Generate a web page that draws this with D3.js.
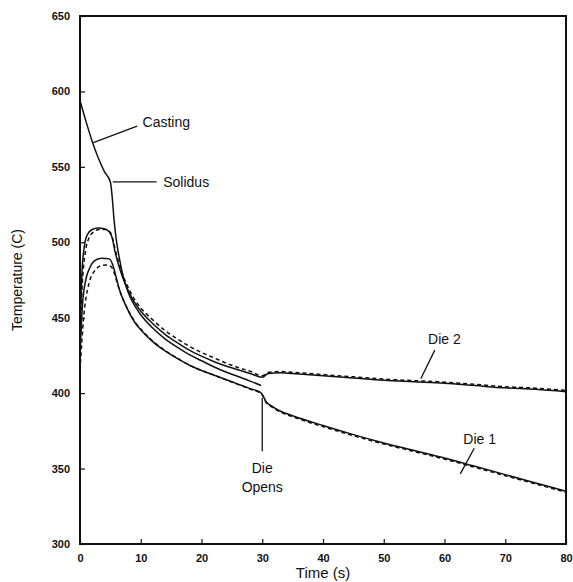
<!DOCTYPE html>
<html>
<head>
<meta charset="utf-8">
<script src="https://cdn.jsdelivr.net/npm/d3@7"></script>
<style>
  body { margin: 0; background: #fff; }
  svg { font-family: "Liberation Sans", Arial, sans-serif; }
  .tick-label { font-size: 11px; font-weight: bold; fill: #111; }
  .note { font-size: 14px; fill: #111; }
</style>
</head>
<body>
<div id="wrapper"></div>
<script>
// tick labels
const xTicks = [0, 10, 20, 30, 40, 50, 60, 70, 80]
const yTicks = [300, 350, 400, 450, 500, 550, 600, 650]

// series: [time (s), temperature (C)]
const casting = [
  [0, 594], [1, 580], [2, 567], [3, 556], [4, 547], [5, 540], [5.3, 530],
  [5.6, 515], [6, 501], [6.5, 489], [7, 479], [8, 466], [9, 458], [10, 452],
  [12, 443], [14, 436], [16, 430.5], [18, 425.5], [20, 421.5], [22, 417.5],
  [24, 414], [26, 411], [28, 408], [29.8, 405]
]
const die2Solid = [
  [0, 440], [0.3, 478], [0.7, 497], [1.2, 505], [2, 508.5], [3, 509.5],
  [4, 509], [4.8, 507], [5.3, 503], [5.7, 495], [6.2, 487], [7, 477],
  [8, 467.5], [9, 460], [10, 454.5], [12, 446], [14, 439], [16, 433.5],
  [18, 428.5], [20, 424.5], [22, 421], [24, 418], [26, 415.5], [28, 413],
  [30, 410.5], [31, 413], [33, 413.5], [35, 413], [40, 411.5], [45, 410],
  [50, 408.5], [55, 407.5], [60, 406.5], [65, 405], [70, 403.5], [75, 402.5],
  [80, 401]
]
const die2Dashed = [
  [0, 436], [0.4, 474], [0.9, 494], [1.5, 503], [2.3, 507], [3.2, 508.5],
  [4.2, 508.5], [5, 506.5], [5.4, 502], [5.8, 495], [6.3, 488], [7, 479],
  [8, 469.5], [9, 462], [10, 456.5], [12, 448.5], [14, 441.5], [16, 436],
  [18, 431], [20, 427], [22, 423.5], [24, 420], [26, 417], [28, 414.5],
  [30, 411.5], [31, 413.8], [33, 414.3], [35, 413.8], [40, 412.3], [45, 410.8],
  [50, 409.3], [55, 408.3], [60, 407.3], [65, 405.8], [70, 404.3], [75, 403.3],
  [80, 401.8]
]
const die1Solid = [
  [0, 425], [0.4, 458], [1, 476], [1.6, 483], [2.3, 487.5], [3.5, 489.5],
  [4.8, 489], [5.4, 485], [6, 476], [6.5, 468.5], [7.6, 457.5], [9, 447],
  [10, 442], [12, 434], [14, 428], [16, 423], [18, 418.5], [20, 415],
  [22, 412], [24, 409], [26, 406], [28, 403], [29.7, 400.5], [30.1, 398.5],
  [30.6, 394.5], [31.5, 391.5], [33, 388], [35, 385], [40, 378.5], [45, 372.5],
  [50, 367], [55, 362], [60, 357], [65, 351.5], [70, 346], [75, 340.5], [80, 335]
]
const die1Dashed = [
  [0, 415], [0.6, 450], [1.5, 473], [2.6, 482], [3.5, 484.5], [4.3, 485],
  [5.1, 484], [5.6, 480], [6.2, 472], [6.8, 465], [7.8, 456], [9, 447.5],
  [10, 442.5], [12, 434.5], [14, 428.3], [16, 423.2], [18, 418.6], [20, 415],
  [22, 412], [24, 408.8], [26, 405.8], [28, 402.7], [29.7, 400], [30.1, 398],
  [30.6, 394], [31.5, 391], [33, 387.4], [35, 384.3], [40, 377.8], [45, 371.8],
  [50, 366.3], [55, 361.3], [60, 356.3], [65, 350.8], [70, 345.3], [75, 339.8],
  [80, 334.3]
]

function drawChart() {
  const dimensions = {
    width: 573,
    height: 582,
    margin: { top: 16, right: 7, bottom: 38, left: 80 }
  }
  dimensions.boundedWidth = dimensions.width
    - dimensions.margin.left - dimensions.margin.right
  dimensions.boundedHeight = dimensions.height
    - dimensions.margin.top - dimensions.margin.bottom

  const wrapper = d3.select("#wrapper")
    .append("svg")
      .attr("width", dimensions.width)
      .attr("height", dimensions.height)

  const bounds = wrapper.append("g")
    .attr("transform", `translate(${dimensions.margin.left},${dimensions.margin.top})`)

  const xScale = d3.scaleLinear()
    .domain([0, 80])
    .range([0, dimensions.boundedWidth])
  const yScale = d3.scaleLinear()
    .domain([300, 650])
    .range([dimensions.boundedHeight, 0])

  // ticks (inward) and labels
  const xAxis = bounds.append("g")
    .attr("transform", `translate(0,${dimensions.boundedHeight})`)
    .call(d3.axisBottom(xScale).tickValues(xTicks).tickSize(-5).tickPadding(10))
  const yAxis = bounds.append("g")
    .call(d3.axisLeft(yScale).tickValues(yTicks).tickSize(-5).tickPadding(10))
  ;[xAxis, yAxis].forEach(ax => {
    ax.select(".domain").remove()
    ax.selectAll(".tick line").attr("stroke", "#111").attr("stroke-width", 1.2)
    ax.selectAll(".tick text").attr("class", "tick-label").attr("font-family", null).attr("font-size", null)
  })

  // frame
  bounds.append("rect")
    .attr("width", dimensions.boundedWidth)
    .attr("height", dimensions.boundedHeight)
    .attr("fill", "none")
    .attr("stroke", "#111")
    .attr("stroke-width", 2)

  const line = d3.line()
    .x(d => xScale(d[0]))
    .y(d => yScale(d[1]))
    .curve(d3.curveMonotoneX)

  const series = [
    { data: casting, dash: null },
    { data: die2Solid, dash: null },
    { data: die2Dashed, dash: "4,3" },
    { data: die1Solid, dash: null },
    { data: die1Dashed, dash: "4,3" }
  ]
  bounds.selectAll(".series")
    .data(series)
    .enter().append("path")
      .attr("class", "series")
      .attr("d", d => line(d.data))
      .attr("fill", "none")
      .attr("stroke", "#111")
      .attr("stroke-width", 1.5)
      .attr("stroke-dasharray", d => d.dash)

  // annotations
  const notes = bounds.append("g")
  const leader = (t1, v1, t2, v2) => notes.append("line")
    .attr("x1", xScale(t1)).attr("y1", yScale(v1))
    .attr("x2", xScale(t2)).attr("y2", yScale(v2))
    .attr("stroke", "#111").attr("stroke-width", 1.3)
  const label = (t, v, txt) => notes.append("text")
    .attr("class", "note")
    .attr("x", xScale(t)).attr("y", yScale(v))
    .attr("dy", "0.35em")
    .text(txt)

  leader(2.2, 566, 9.4, 577)
  label(10.3, 580, "Casting")
  leader(5.4, 540, 12.6, 540)
  label(13.7, 540, "Solidus")
  leader(56.1, 409.5, 58.4, 428.5)
  label(57.3, 436, "Die 2")
  leader(62.6, 346.5, 64.9, 363.5)
  label(63.1, 369.5, "Die 1")
  leader(30, 397, 30, 361.5)
  notes.append("text").attr("class", "note")
    .attr("x", xScale(30)).attr("y", yScale(350)).attr("dy", "0.35em")
    .attr("text-anchor", "middle").text("Die")
  notes.append("text").attr("class", "note")
    .attr("x", xScale(30)).attr("y", yScale(338)).attr("dy", "0.35em")
    .attr("text-anchor", "middle").text("Opens")

  // axis titles
  wrapper.append("text")
    .attr("x", dimensions.margin.left + dimensions.boundedWidth / 2)
    .attr("y", 578)
    .attr("text-anchor", "middle")
    .attr("font-size", 15)
    .attr("fill", "#111")
    .text("Time (s)")
  wrapper.append("text")
    .attr("transform", `translate(22,${dimensions.margin.top + dimensions.boundedHeight / 2}) rotate(-90)`)
    .attr("text-anchor", "middle")
    .attr("font-size", 14)
    .attr("fill", "#111")
    .text("Temperature (C)")
}

drawChart()
</script>
</body>
</html>
